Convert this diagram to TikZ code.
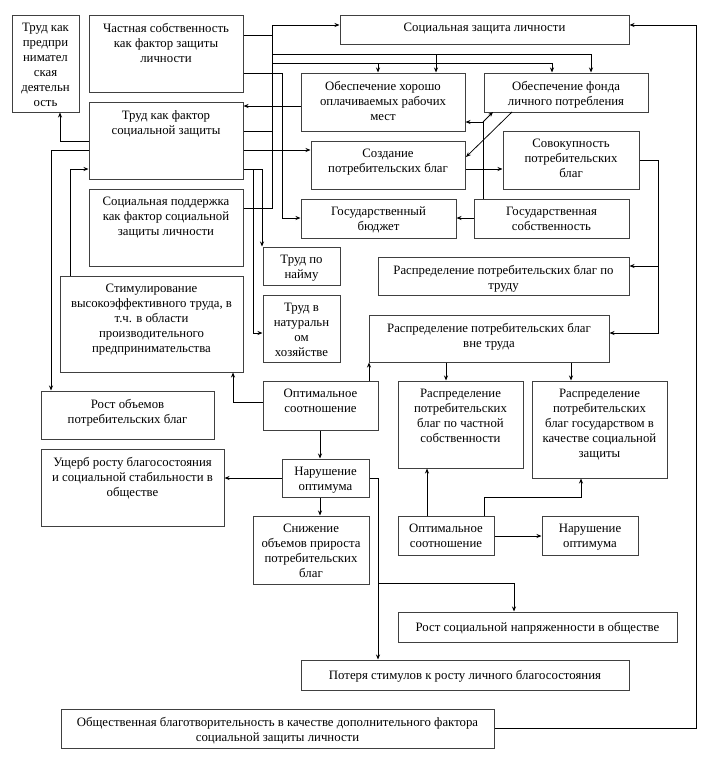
\documentclass[tikz,border=0pt]{standalone}
\usepackage{fontspec}
\setmainfont{Liberation Serif}
\usetikzlibrary{arrows.meta,fit,calc}
\newcommand\bx[7][8.5]{%
  \coordinate (#2-nw) at (#3,#4);
  \coordinate (#2-se) at (#5,#6);
  \node[boxst, fit=(#2-nw)(#2-se)] (#2) {};
  \node[txt, anchor=north] (#2-t) at ($(#2.north)+(0,#1)$) {#7};}
\begin{document}
\begin{tikzpicture}[x=1pt,y=-1pt,
  boxst/.style={draw=black!75, line width=1pt, inner sep=0pt},
  txt/.style={align=center, inner sep=0pt, font=\fontsize{12.8}{15}\selectfont},
  con/.style={draw=black, line width=0.75pt},
  arr/.style={con, -{Stealth[length=5pt,width=4pt]}}]
\useasboundingbox[fill=white] (0,0) rectangle (726,763);

\bx{b1}{12}{15}{79}{112}{Труд как\\предпри\\нимател\\ская\\деятельн\\ость}
\bx{b2}{89}{15}{243}{92}{Частная собственность\\как фактор защиты\\личности}
\bx{b3}{340}{15}{629}{44}{Социальная защита личности}
\bx{b4}{301}{73}{465}{131}{Обеспечение хорошо\\оплачиваемых рабочих\\мест}
\bx{b5}{484}{73}{648}{112}{Обеспечение фонда\\личного потребления}
\bx{b6}{89}{102}{243}{179}{Труд как фактор\\социальной защиты}
\bx{b7}{311}{141}{465}{189}{Создание\\потребительских благ}
\bx{b8}{503}{131}{639}{189}{Совокупность\\потребительских\\благ}
\bx{b9}{89}{189}{243}{266}{Социальная поддержка\\как фактор социальной\\защиты личности}
\bx{b10}{301}{199}{456}{238}{Государственный\\бюджет}
\bx{b11}{474}{199}{629}{238}{Государственная\\собственность}
\bx{b12}{263}{247}{340}{285}{Труд по\\найму}
\bx{b13}{378}{257}{629}{295}{Распределение потребительских благ по\\труду}
\bx{b14}{60}{276}{243}{372}{Стимулирование\\высокоэффективного труда, в\\т.ч. в области\\производительного\\предпринимательства}
\bx{b15}{263}{295}{340}{362}{Труд в\\натуральн\\ом\\хозяйстве}
\bx{b16}{369}{315}{609}{362}{Распределение потребительских благ\\вне труда}
\bx{b17}{41}{391}{214}{439}{Рост объемов\\потребительских благ}
\bx{b18}{263}{381}{378}{430}{Оптимальное\\соотношение}
\bx{b19}{398}{381}{523}{468}{Распределение\\потребительских\\благ по частной\\собственности}
\bx{b20}{532}{381}{667}{478}{Распределение\\потребительских\\благ государством в\\качестве социальной\\защиты}
\bx{b21}{41}{449}{224}{526}{Ущерб росту благосостояния\\и социальной стабильности в\\обществе}
\bx{b22}{282}{459}{369}{497}{Нарушение\\оптимума}
\bx{b23}{253}{516}{369}{584}{Снижение\\объемов прироста\\потребительских\\благ}
\bx{b24}{398}{516}{494}{555}{Оптимальное\\соотношение}
\bx{b25}{542}{516}{638}{555}{Нарушение\\оптимума}
\bx[10.5]{b26}{398}{612}{677}{642}{Рост социальной напряженности в обществе}
\bx[10.5]{b27}{301}{660}{629}{690}{Потеря стимулов к росту личного благосостояния}
\bx{b28}{61}{709}{494}{748}{Общественная благотворительность в качестве дополнительного фактора\\социальной защиты личности}

% junction coordinates
\coordinate (T1) at (272,25);
\coordinate (T2) at (272,208);
\coordinate (J35) at (272,35);
\coordinate (J131) at (272,131);
\coordinate (B54) at (272,54);
\coordinate (B63) at (272,63);
\coordinate (D1) at (591,54);
\coordinate (D2) at (436,54);
\coordinate (D3) at (552,63);
\coordinate (D4) at (378,63);
\coordinate (K1) at (282,73);
\coordinate (K2) at (282,218);
\coordinate (L1) at (0,106);
\coordinate (L2) at (0,150);
\coordinate (M1) at (262,169);
\coordinate (M2) at (253,169);
\coordinate (M3) at (253,333);
\coordinate (N1) at (60,141);
\coordinate (N2) at (51,150);
\coordinate (N3) at (70,169);
\coordinate (P1) at (483,122);
\coordinate (P2) at (493,112);
\coordinate (P3) at (512,112);
\coordinate (P4) at (466,157);
\coordinate (L3) at (0,169);
\coordinate (L4) at (0,218);
\coordinate (Q1) at (658,160);
\coordinate (Q2) at (658,333);
\coordinate (Q3) at (658,266);
\coordinate (R1) at (696,728);
\coordinate (R2) at (696,25);
\coordinate (S1) at (446,0);
\coordinate (S2) at (571,0);
\coordinate (S3) at (369,0);
\coordinate (U1) at (233,402);
\coordinate (V1) at (320,0);
\coordinate (L5) at (0,478);
\coordinate (W1) at (378,478);
\coordinate (W2) at (378,583);
\coordinate (W3) at (514,583);
\coordinate (X1) at (427,0);
\coordinate (X2) at (484,497);
\coordinate (X3) at (581,497);
\coordinate (L6) at (0,536);

% trunk to social protection
\draw[arr] (T2 -| b9.east) -- (T2) -- (T1) -- (T1 -| b3.west);
\draw[con] (J35 -| b2.east) -- (J35);
\draw[con] (J131 -| b6.east) -- (J131);
\draw[arr] (B54) -- (D1) -- (D1 |- b5.north);
\draw[arr] (D2) -- (D2 |- b4.north);
\draw[arr] (B63) -- (D3) -- (D3 |- b5.north);
\draw[arr] (D4) -- (D4 |- b4.north);
\draw[arr] (K1 -| b2.east) -- (K1) -- (K2) -- (K2 -| b10.west);
\draw[arr] (L1 -| b4.west) -- (L1 -| b6.east);
\draw[arr] (L2 -| b6.east) -- (L2 -| b7.west);
\draw[arr] (M1 -| b6.east) -- (M1) -- (M1 |- b12.north);
\draw[arr] (M2) -- (M3) -- (M3 -| b15.west);
\draw[arr] (N1 -| b6.west) -- (N1) -- (N1 |- b1.south);
\draw[arr] (N2 -| b6.west) -- (N2) -- (N2 |- b17.north);
\draw[arr] (N3 |- b14.north) -- (N3) -- (N3 -| b6.west);
\draw[con] (P1 |- b11.north) -- (P1);
\draw[arr] (P1) -- (P1 -| b4.east);
\draw[arr] (P1) -- (P2);
\draw[arr] (P3) -- (P4);
\draw[arr] (L3 -| b7.east) -- (L3 -| b8.west);
\draw[arr] (L4 -| b11.west) -- (L4 -| b10.east);
\draw[arr] (Q1 -| b8.east) -- (Q1) -- (Q2) -- (Q2 -| b16.east);
\draw[arr] (Q3) -- (Q3 -| b13.east);
\draw[arr] (R1 -| b28.east) -- (R1) -- (R2) -- (R2 -| b3.east);
\draw[arr] (S1 |- b16.south) -- (S1 |- b19.north);
\draw[arr] (S2 |- b16.south) -- (S2 |- b20.north);
\draw[arr] (S3 |- b18.north) -- (S3 |- b16.south);
\draw[arr] (U1 -| b18.west) -- (U1) -- (U1 |- b14.south);
\draw[arr] (V1 |- b18.south) -- (V1 |- b22.north);
\draw[arr] (L5 -| b22.west) -- (L5 -| b21.east);
\draw[arr] (V1 |- b22.south) -- (V1 |- b23.north);
\draw[arr] (W1 -| b22.east) -- (W1) -- (W1 |- b27.north);
\draw[arr] (W2) -- (W3) -- (W3 |- b26.north);
\draw[arr] (X1 |- b24.north) -- (X1 |- b19.south);
\draw[arr] (X2 |- b24.north) -- (X2) -- (X3) -- (X3 |- b20.south);
\draw[arr] (L6 -| b24.east) -- (L6 -| b25.west);
\end{tikzpicture}
\end{document}
